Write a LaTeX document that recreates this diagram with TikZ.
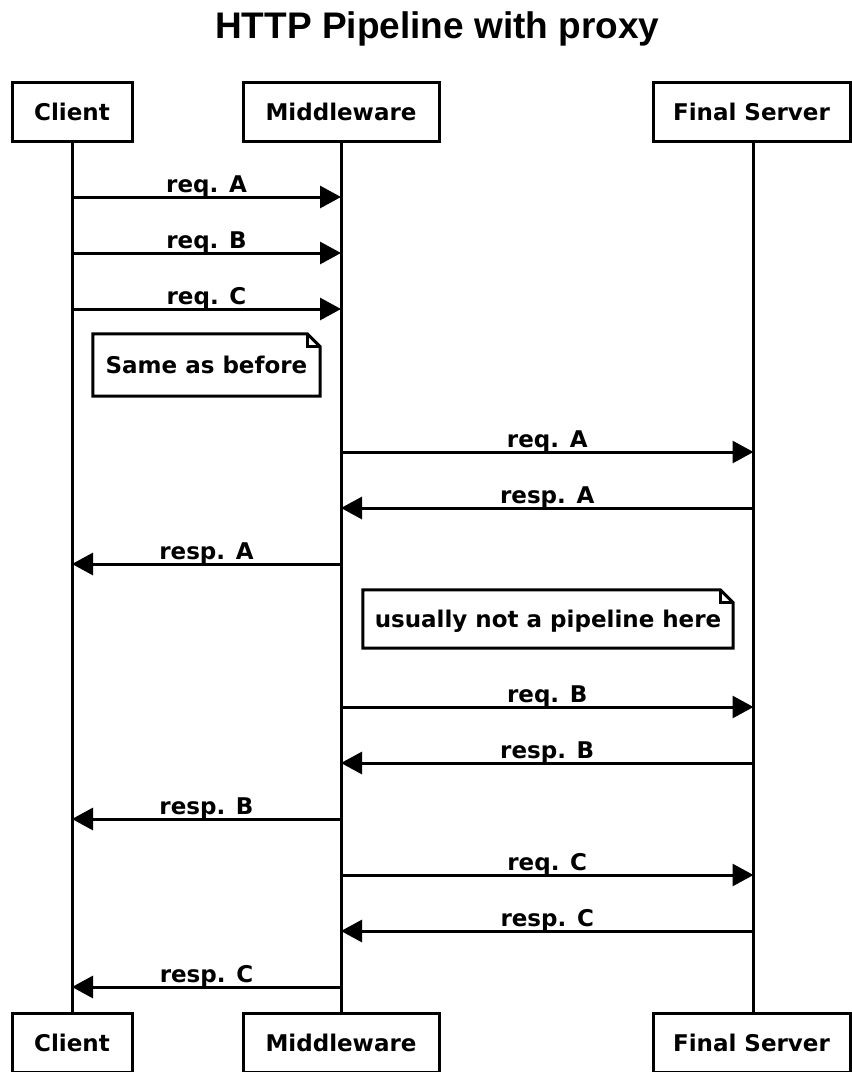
\documentclass[tikz,border=0pt]{standalone}
\usepackage{fontspec}
\setmainfont{DejaVu Sans}
\newfontfamily\titlefont{Liberation Sans}
\usetikzlibrary{arrows.meta}

\begin{document}
\begin{tikzpicture}[x=1pt,y=-1pt,
  every node/.style={inner sep=0pt, font=\fontsize{23}{27}\selectfont\bfseries},
  actor/.style={draw, line width=3pt, fill=white, minimum height=59pt,
    text height=17.5pt, text depth=0pt},
  notebox/.style={text height=17.5pt, text depth=0pt},
  lifeline/.style={line width=3pt},
  msg/.style={line width=3pt, -{Triangle[length=21pt,width=22pt]}},
  lbl/.style={anchor=base, yshift=5pt},
  fold/.style={line width=3pt, line join=miter}]
  \useasboundingbox (0,0) rectangle (852,1072);

  % title
  \node[anchor=base west, font=\titlefont\fontsize{37}{44}\selectfont\bfseries]
    (title) at (215,38) {HTTP Pipeline with proxy};

  % participants, top and bottom
  \node[actor, minimum width=120pt] (c1) at (72,111.5) {Client};
  \node[actor, minimum width=196pt] (m1) at (341,111.5) {Middleware};
  \node[actor, minimum width=197pt] (f1) at (751.5,111.5) {Final Server};
  \node[actor, minimum width=120pt] (c2) at (72,1042.5) {Client};
  \node[actor, minimum width=196pt] (m2) at (341,1042.5) {Middleware};
  \node[actor, minimum width=197pt] (f2) at (751.5,1042.5) {Final Server};

  % lifelines
  \coordinate (cl) at (c1.center);
  \coordinate (ml) at (m1.center);
  \coordinate (fl) at ([xshift=2pt]f1.center);
  \draw[lifeline] (c1.south) -- (c2.north);
  \draw[lifeline] (m1.south) -- (m2.north);
  \draw[lifeline] ([xshift=2pt]f1.south) -- ([xshift=2pt]f2.north);

  % pipelined requests from the client
  \draw[msg] (cl |- 0,197) -- node[lbl] {req. A} (ml |- 0,197);
  \draw[msg] (cl |- 0,253) -- node[lbl] {req. B} (ml |- 0,253);
  \draw[msg] (cl |- 0,309) -- node[lbl] {req. C} (ml |- 0,309);

  % note: same as before
  \node[notebox, minimum width=227pt, minimum height=62pt] (n1) at (206.5,365) {Same as before};
  \draw[fold] (n1.north west) -- ([xshift=-13pt]n1.north east)
    -- ([yshift=-13pt]n1.north east) -- (n1.south east) -- (n1.south west) -- cycle;
  \draw[fold] ([xshift=-13pt]n1.north east) -- ([xshift=-13pt,yshift=-13pt]n1.north east)
    -- ([yshift=-13pt]n1.north east);

  % request A
  \draw[msg] (ml |- 0,452) -- node[lbl] {req. A} (fl |- 0,452);
  \draw[msg] (fl |- 0,508) -- node[lbl] {resp. A} (ml |- 0,508);
  \draw[msg] (ml |- 0,564) -- node[lbl] {resp. A} (cl |- 0,564);

  % note: usually not a pipeline
  \node[notebox, minimum width=370pt, minimum height=58pt] (n2) at (548,619) {usually not a pipeline here};
  \draw[fold] (n2.north west) -- ([xshift=-13pt]n2.north east)
    -- ([yshift=-13pt]n2.north east) -- (n2.south east) -- (n2.south west) -- cycle;
  \draw[fold] ([xshift=-13pt]n2.north east) -- ([xshift=-13pt,yshift=-13pt]n2.north east)
    -- ([yshift=-13pt]n2.north east);

  % request B
  \draw[msg] (ml |- 0,707) -- node[lbl] {req. B} (fl |- 0,707);
  \draw[msg] (fl |- 0,763) -- node[lbl] {resp. B} (ml |- 0,763);
  \draw[msg] (ml |- 0,819) -- node[lbl] {resp. B} (cl |- 0,819);

  % request C
  \draw[msg] (ml |- 0,875) -- node[lbl] {req. C} (fl |- 0,875);
  \draw[msg] (fl |- 0,931) -- node[lbl] {resp. C} (ml |- 0,931);
  \draw[msg] (ml |- 0,987) -- node[lbl] {resp. C} (cl |- 0,987);
\end{tikzpicture}
\end{document}
